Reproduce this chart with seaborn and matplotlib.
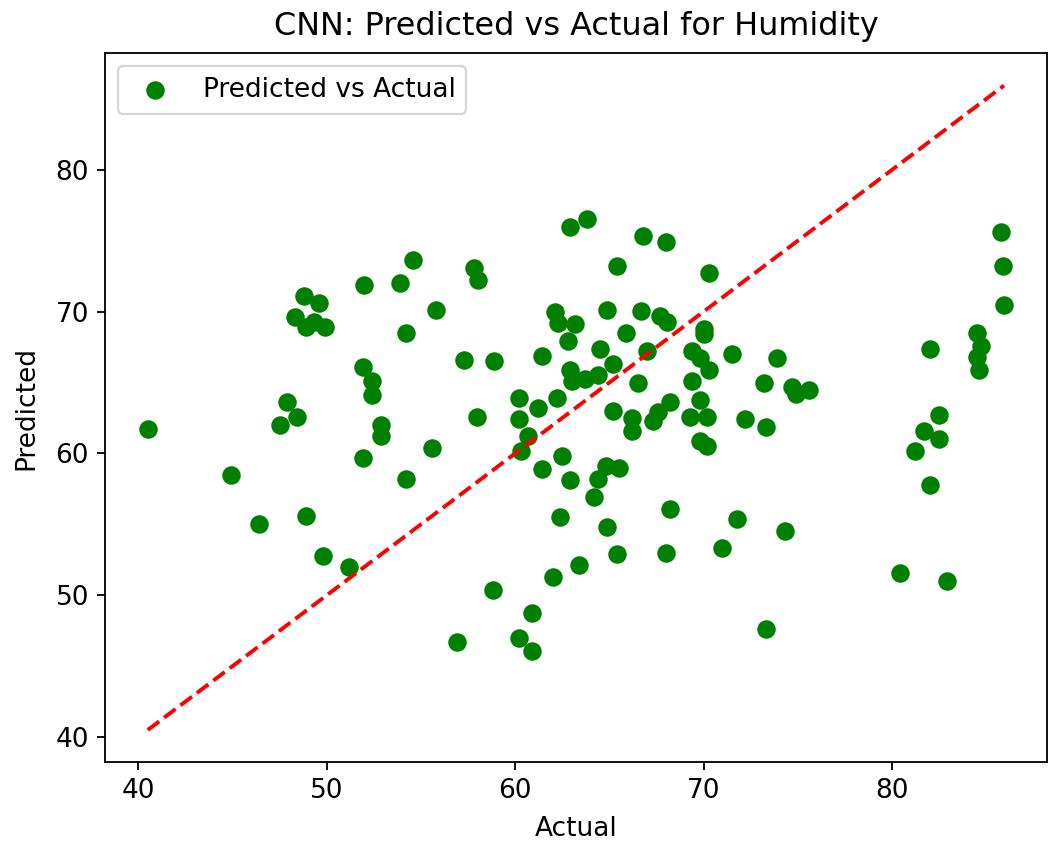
import numpy as np
import pandas as pd
import seaborn as sns
import matplotlib
matplotlib.use("Agg")
import matplotlib.pyplot as plt

actual = [
    40.5, 44.9, 46.4, 48.9, 49.8, 51.2, 51.9, 54.2, 55.6, 54.6, 52.0, 53.9, 48.8, 49.6,
    48.3, 48.9, 49.3, 49.9, 54.2, 51.9, 52.4, 52.4, 47.9, 48.4, 47.5, 52.9, 52.9, 55.8,
    57.8, 58.05, 57.3, 58.9, 58.0,
    62.9, 63.8, 66.8, 68.0, 65.4, 70.3, 62.1, 62.3, 63.2, 64.9, 66.7, 67.7, 68.05, 70.0,
    70.0, 65.9, 62.8, 64.5, 67.0, 61.4, 65.2, 69.4, 69.8, 70.3, 71.5, 62.9, 63.0, 63.7,
    64.4, 66.5, 69.4, 60.2, 61.2, 62.2, 60.2, 65.2, 66.2, 68.2, 67.6, 67.3, 69.8, 69.3,
    70.2, 60.7, 60.3, 62.5, 61.4, 62.9, 66.2, 69.8, 70.2, 72.2, 73.3, 64.8, 65.5, 64.4,
    64.2, 68.2, 71.8, 62.4, 64.9, 65.4, 68.0, 71.0, 63.4, 62.0, 58.8, 60.9, 56.9, 60.2,
    60.9, 73.3, 74.3,
    73.9, 73.2, 74.7, 74.9, 75.6, 85.8, 85.9, 85.95, 82.0, 84.5, 84.7, 84.5, 84.6, 82.5,
    81.7, 82.5, 81.2, 82.0, 80.4, 82.9,
]
predicted = [
    61.7, 58.5, 55.0, 55.6, 52.8, 52.0, 59.7, 58.2, 60.4, 73.65, 71.9, 72.0, 71.1, 70.6,
    69.6, 68.9, 69.3, 68.9, 68.5, 66.1, 65.1, 64.1, 63.6, 62.6, 62.0, 62.0, 61.2, 70.1,
    73.1, 72.2, 66.6, 66.5, 62.6,
    76.0, 76.5, 75.3, 74.9, 73.2, 72.7, 70.0, 69.2, 69.1, 70.1, 70.05, 69.7, 69.3, 68.8,
    68.4, 68.5, 67.9, 67.4, 67.2, 66.9, 66.3, 67.2, 66.7, 65.9, 67.0, 65.9, 65.1, 65.25,
    65.5, 65.0, 65.1, 63.9, 63.2, 63.9, 62.4, 63.0, 62.5, 63.6, 62.9, 62.3, 63.8, 62.6,
    62.6, 61.2, 60.2, 59.8, 58.9, 58.1, 61.6, 60.9, 60.5, 62.4, 61.9, 59.1, 59.0, 58.2,
    56.9, 56.1, 55.4, 55.5, 54.8, 52.9, 53.0, 53.3, 52.1, 51.3, 50.4, 48.75, 46.7, 47.0,
    46.1, 47.6, 54.5,
    66.7, 65.0, 64.7, 64.2, 64.5, 75.6, 73.2, 70.5, 67.4, 68.5, 67.6, 66.8, 65.9, 62.7,
    61.6, 61.0, 60.2, 57.8, 51.6, 51.0,
]

title = "CNN: Predicted vs Actual for Humidity"
x_label = "Actual"
y_label = "Predicted"
legend_label = "Predicted vs Actual"

df = pd.DataFrame({"Actual": actual, "Predicted": predicted})

plt.rcParams['font.family'] = ['DejaVu Sans']
fig = plt.figure(figsize=(1049 / 164, 845 / 164), dpi=164)
ax = fig.add_axes([0.100, 0.098, 0.898, 0.839])

sns.scatterplot(data=df, x="Actual", y="Predicted", color="green", s=66,
                linewidth=0, label=legend_label, ax=ax)
lo, hi = min(actual), max(actual)
ax.plot([lo, hi], [lo, hi], color="red", linestyle="--", linewidth=1.7)

ax.set_title(title, fontsize=14, pad=8)
ax.set_xlabel(x_label, fontsize=11.6, labelpad=5)
ax.set_ylabel(y_label, fontsize=11.6, labelpad=7)
ax.set_xticks([40, 50, 60, 70, 80])
ax.set_yticks([40, 50, 60, 70, 80])
ax.tick_params(labelsize=11.6)
ax.legend(loc="upper left", fontsize=11.6)

fig.savefig("out.png", dpi=164)
